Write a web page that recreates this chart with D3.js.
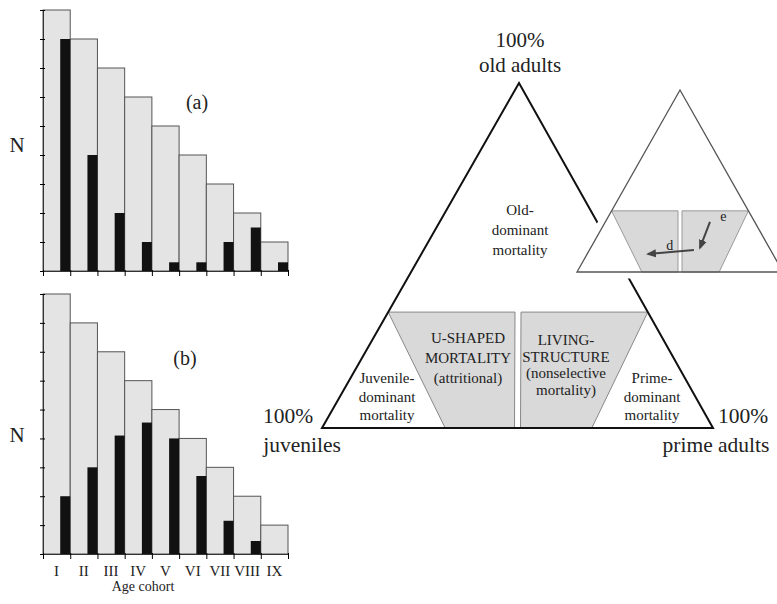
<!DOCTYPE html>
<meta charset="utf-8">
<head>
<style>
  body { margin: 0; background: #fff; }
  svg text { font-family: "Liberation Serif", "DejaVu Serif", serif !important; fill: #222; }
</style>
</head>
<body>
<div id="chart"></div>
<script src="https://d3js.org/d3.v7.min.js"></script>
<script>
// ---- data ----
var cohorts = ["I", "II", "III", "IV", "V", "VI", "VII", "VIII", "IX"];
var livingN = [9, 8, 7, 6, 5, 4, 3, 2, 1];          // grey bars (living structure)
var deathsA = [8, 4, 2, 1, 0.3, 0.3, 1, 1.5, 0.3];  // black bars, panel (a)
var deathsB = [2, 3, 4.1, 4.55, 4, 2.7, 1.15, 0.45, 0]; // black bars, panel (b)
var nTicks = [0, 1, 2, 3, 4, 5, 6, 7, 8, 9];

// ternary zone limits (fractions of juveniles / prime / old)
var oldCut = 0.336;
var juvCut = [0.664, 0.685];    // juvenile fraction at top / at base of grey zone
var primeCut = [0.664, 0.69];
// arrows in the inset, [juv, prime, old] start -> end
var arrowD = [[0.372, 0.507, 0.121], [0.606, 0.295, 0.099]];
var arrowE = [[0.217, 0.508, 0.275], [0.337, 0.531, 0.132]];

var cornerTop = ["100%", "old adults"];
var oldZone = ["Old-", "dominant", "mortality"];
var juvZone = ["Juvenile-", "dominant", "mortality"];
var primeZone = ["Prime-", "dominant", "mortality"];
var uZone = ["U-SHAPED", "MORTALITY", "(attritional)"];
var lsZone = ["LIVING-", "STRUCTURE", "(nonselective", "mortality)"];

// ---- svg ----
var W = 777, H = 604;
var svg = d3.select("#chart").append("svg")
  .attr("width", W).attr("height", H)
  .style("font-family", "'Liberation Serif', 'DejaVu Serif', serif");

svg.append("defs").append("marker")
  .attr("id", "ah")
  .attr("viewBox", "0 0 10 10")
  .attr("refX", 8).attr("refY", 5)
  .attr("markerWidth", 5).attr("markerHeight", 5)
  .attr("orient", "auto")
  .append("path").attr("d", "M0,1 L10,5 L0,9 Z").attr("fill", "#444");

// bar panels
function drawPanel(top, bottom, deaths, tag, tagPos, nY, showLabels) {
  var x = d3.scaleBand().domain(cohorts).range([43, 288]);
  var xb = d3.scaleLinear().domain([0, 9]).range([43, 288]);
  var y = d3.scaleLinear().domain([0, 9]).range([bottom, top]);
  var bw = x.bandwidth();
  var g = svg.append("g");

  g.selectAll(".live").data(cohorts).enter().append("rect")
    .attr("x", function(d) { return x(d); })
    .attr("y", function(d, i) { return y(livingN[i]); })
    .attr("width", bw)
    .attr("height", function(d, i) { return y(0) - y(livingN[i]); })
    .attr("fill", "#e4e4e4")
    .attr("stroke", "#555")
    .attr("stroke-width", 1);

  g.selectAll(".dead").data(cohorts).enter().append("rect")
    .attr("x", function(d) { return x(d) + bw - 10; })
    .attr("y", function(d, i) { return y(deaths[i]); })
    .attr("width", 10)
    .attr("height", function(d, i) { return y(0) - y(deaths[i]); })
    .attr("fill", "#111");

  var ya = g.append("g").attr("transform", "translate(43,0)")
    .call(d3.axisLeft(y).tickValues(nTicks).tickSize(3).tickSizeOuter(0).tickFormat(""));
  ya.selectAll(".tick line").attr("x2", 2).attr("x1", -3);
  ya.select(".domain").attr("stroke", "#333");

  var xa = g.append("g").attr("transform", "translate(0," + bottom + ")")
    .call(d3.axisBottom(xb).tickValues(nTicks).tickSize(5).tickSizeOuter(0).tickFormat(""));
  xa.select(".domain").attr("stroke", "#333");
  xa.selectAll(".tick line").attr("y1", -1);

  g.append("text").attr("x", 17).attr("y", nY)
    .attr("text-anchor", "middle").attr("dominant-baseline", "middle")
    .attr("font-size", 21).text("N");

  g.append("text").attr("x", tagPos[0]).attr("y", tagPos[1])
    .attr("text-anchor", "middle").attr("dominant-baseline", "middle")
    .attr("font-size", 20).text(tag);

  if (showLabels) {
    g.selectAll(".lab").data(cohorts).enter().append("text")
      .attr("x", function(d) { return x(d) + bw / 2; })
      .attr("y", bottom + 22)
      .attr("text-anchor", "middle")
      .attr("font-size", 15)
      .text(function(d) { return d; });
    g.append("text").attr("x", 143).attr("y", bottom + 37)
      .attr("text-anchor", "middle").attr("font-size", 14)
      .text("Age cohort");
  }
}

drawPanel(10, 271, deathsA, "(a)", [197, 104], 147, false);
drawPanel(294, 554, deathsB, "(b)", [185, 360], 437, true);

// ---- ternary ----
var mainTri = {J: [322, 428], P: [713, 428], O: [519, 83]};
var insetTri = {J: [577, 272], P: [783, 272], O: [680, 90]};

function tern(T, j, p, o) {
  return [T.J[0] * j + T.P[0] * p + T.O[0] * o,
          T.J[1] * j + T.P[1] * p + T.O[1] * o];
}
function shift(pt, dx) { return [pt[0] + dx, pt[1]]; }

function drawTriangle(T, gap, edge, edgeW, zoneStroke, halo) {
  var g = svg.append("g");
  var outline = [T.J, T.P, T.O];
  if (halo) {
    g.append("polygon").attr("points", outline.join(" "))
      .attr("fill", "#fff").attr("stroke", "#fff").attr("stroke-width", 13)
      .attr("stroke-linejoin", "round");
  }
  var m = (1 - oldCut) / 2;
  var leftTop = tern(T, 1 - oldCut, 0, oldCut);
  var leftBase = tern(T, juvCut[1], 1 - juvCut[1], 0);
  var midTop = tern(T, m, m, oldCut);
  var midBase = tern(T, 0.5, 0.5, 0);
  var rightTop = tern(T, 0, 1 - oldCut, oldCut);
  var rightBase = tern(T, 1 - primeCut[1], primeCut[1], 0);

  var zones = [
    [leftTop, shift(midTop, -gap), shift(midBase, -gap), leftBase],
    [shift(midTop, gap), rightTop, rightBase, shift(midBase, gap)]
  ];
  g.selectAll(".zone").data(zones).enter().append("polygon")
    .attr("points", function(d) { return d.join(" "); })
    .attr("fill", "#d9d9d9")
    .attr("stroke", zoneStroke)
    .attr("stroke-width", 1);

  g.append("polygon").attr("points", outline.join(" "))
    .attr("fill", "none").attr("stroke", edge).attr("stroke-width", edgeW)
    .attr("stroke-linejoin", "miter");
  return g;
}

drawTriangle(mainTri, 3, "#111", 2, "#888", false);

// main triangle labels
function lines(arr, cx, y0, dy, size) {
  svg.append("g").selectAll("text").data(arr).enter().append("text")
    .attr("x", cx)
    .attr("y", function(d, i) { return y0 + i * dy; })
    .attr("text-anchor", "middle").attr("dominant-baseline", "middle")
    .attr("font-size", size)
    .text(function(d) { return d; });
}
lines(cornerTop, 520, 42, 25, 21);
lines(["100%"], 288, 418, 0, 21.5);
lines(["juveniles"], 302, 447, 0, 21.5);
lines(["100%"], 743, 418, 0, 21.5);
lines(["prime adults"], 716, 447, 0, 21.5);
lines(oldZone, 520, 212, 20, 15);
lines(uZone, 468, 340, 20, 15);
lines(juvZone, 387, 380, 18.5, 15);
lines(lsZone, 566, 342, 16.5, 15);
lines(primeZone, 652, 380, 18.5, 15);

// inset
var ig = drawTriangle(insetTri, 2, "#555", 1.3, "#999", true);
[arrowD, arrowE].forEach(function(a) {
  var s = tern(insetTri, a[0][0], a[0][1], a[0][2]);
  var e = tern(insetTri, a[1][0], a[1][1], a[1][2]);
  ig.append("line")
    .attr("x1", s[0]).attr("y1", s[1]).attr("x2", e[0]).attr("y2", e[1])
    .attr("stroke", "#444").attr("stroke-width", 2)
    .attr("marker-end", "url(#ah)");
});
var dLab = tern(insetTri, 0.48, 0.38, 0.14);
var eLab = tern(insetTri, 0.14, 0.56, 0.30);
ig.append("text").attr("x", dLab[0]).attr("y", dLab[1]).attr("text-anchor", "middle")
  .attr("dominant-baseline", "middle").attr("font-size", 14).text("d");
ig.append("text").attr("x", eLab[0]).attr("y", eLab[1]).attr("text-anchor", "middle")
  .attr("dominant-baseline", "middle").attr("font-size", 14).text("e");
</script>
</body>
